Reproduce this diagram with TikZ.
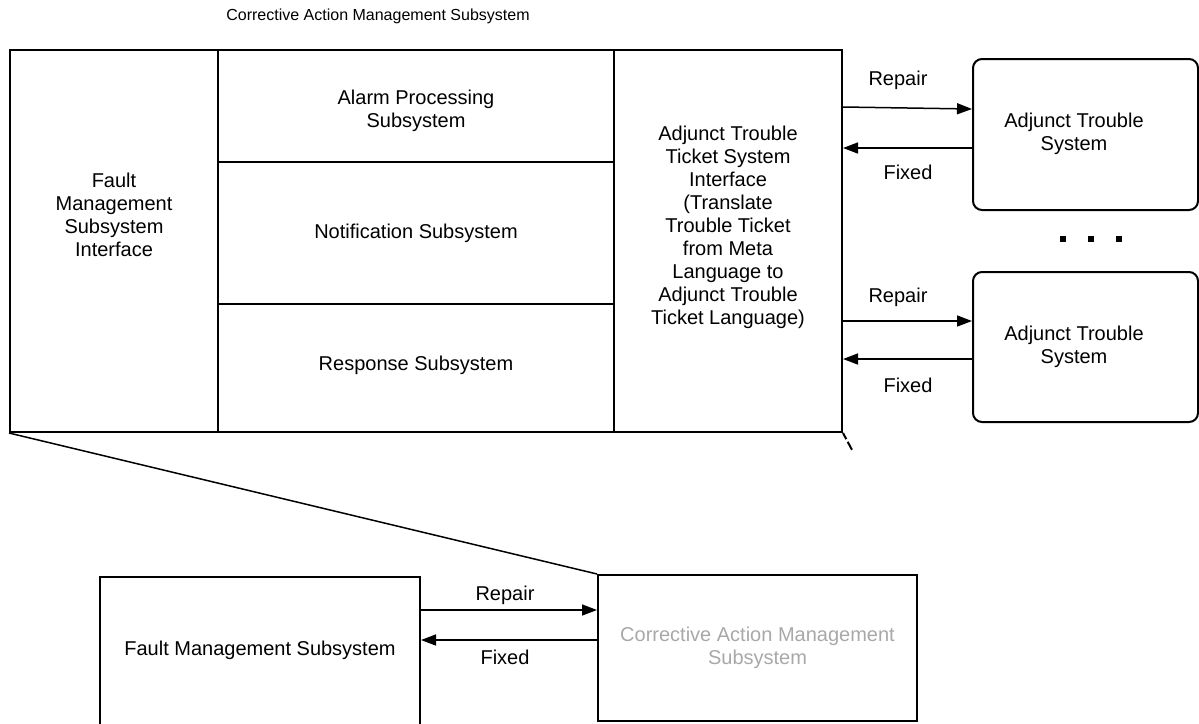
\documentclass[tikz,border=0pt]{standalone}
\usepackage{fontspec}
\setmainfont{Liberation Sans}
\usetikzlibrary{arrows.meta}
\definecolor{greytext}{HTML}{A8A8A8}
\tikzset{
  box/.style={draw, line width=2pt, inner sep=0pt},
  roundbox/.style={draw, line width=2pt, inner sep=0pt, rounded corners=9pt},
  txt/.style={align=center, inner sep=0pt, font=\fontsize{20}{23}\selectfont},
  titletxt/.style={inner sep=0pt, font=\fontsize{16}{19}\selectfont},
  flow/.style={line width=1.5pt, -{Triangle[length=15pt,width=11pt]}},
  dotmark/.style={fill=black, inner sep=0pt, minimum size=6pt}
}
\begin{document}
\begin{tikzpicture}[x=1pt, y=-1pt]
\useasboundingbox (0,0) rectangle (1199,723);
\clip (0,0) rectangle (1199,723);

% title of the exploded subsystem
\node[titletxt] (title) at (378,16) {Corrective Action Management Subsystem};

% the subsystem broken into its parts
\node[box, minimum width=208pt, minimum height=382pt] (fmsi) at (114,241) {};
\node[box, minimum width=396pt, minimum height=112pt] (alarm) at (416,106) {};
\node[box, minimum width=396pt, minimum height=142pt] (notif) at (416,233) {};
\node[box, minimum width=396pt, minimum height=128pt] (resp) at (416,368) {};
\node[box, minimum width=228pt, minimum height=382pt] (atts) at (728,241) {};

\node[txt] (fmsitxt) at ([yshift=26pt]fmsi.center) {Fault\\Management\\Subsystem\\Interface};
\node[txt] (alarmtxt) at ([yshift=-5pt]alarm.center) {Alarm Processing\\Subsystem};
\node[txt] (notiftxt) at (notif.center) {Notification Subsystem};
\node[txt] (resptxt) at ([yshift=3pt]resp.center) {Response Subsystem};
\node[txt] (attstxt) at ([yshift=14pt]atts.center) {Adjunct Trouble\\Ticket System\\Interface\\(Translate\\Trouble Ticket\\from Meta\\Language to\\Adjunct Trouble\\Ticket Language)};

% external trouble systems
\node[roundbox, minimum width=225pt, minimum height=151pt] (adj1) at (1085.5,134.5) {};
\node[roundbox, minimum width=225pt, minimum height=150pt] (adj2) at (1085.5,347) {};
\node[txt] (adj1txt) at (1074,134) {Adjunct Trouble\\System};
\node[txt] (adj2txt) at (1074,347) {Adjunct Trouble\\System};

\node[dotmark] (d1) at (1063,239) {};
\node[dotmark] (d2) at (1091,239) {};
\node[dotmark] (d3) at (1119,239) {};

\draw[flow] ([yshift=134pt]atts.east) -- ([yshift=25.5pt]adj1.west);
\draw[flow] ([yshift=-13.5pt]adj1.west) -- ([yshift=93pt]atts.east);
\draw[flow] ([yshift=-80pt]atts.east) -- ([yshift=26pt]adj2.west);
\draw[flow] ([yshift=-12pt]adj2.west) -- ([yshift=-118pt]atts.east);

\node[txt] (r1) at (898,80) {Repair};
\node[txt] (f1) at (908,172) {Fixed};
\node[txt] (r2) at (898,297) {Repair};
\node[txt] (f2) at (908,385) {Fixed};

% overview: the two subsystems
\node[box, minimum width=320pt, minimum height=163pt] (fms) at (260,658.5) {};
\node[txt] (fmstxt) at ([yshift=8.5pt]fms.center) {Fault Management Subsystem};
\node[box, minimum width=319pt, minimum height=146pt] (cam) at (757.5,648) {};
\node[txt, text=greytext] (camtxt) at (cam.center) {Corrective Action Management\\Subsystem};

\draw[flow] ([yshift=48.5pt]fms.east) -- ([yshift=38pt]cam.west);
\draw[flow] ([yshift=8pt]cam.west) -- ([yshift=18.5pt]fms.east);
\node[txt] (r3) at (505,595) {Repair};
\node[txt] (f3) at (505,657) {Fixed};

% zoom lines from the overview box to its breakdown
\draw[line width=1.5pt] (fmsi.south west) -- (cam.north west);
\draw[line width=2pt, dash pattern=on 7pt off 3pt on 9pt off 400pt] (atts.south east) -- (cam.north east);
\end{tikzpicture}
\end{document}
